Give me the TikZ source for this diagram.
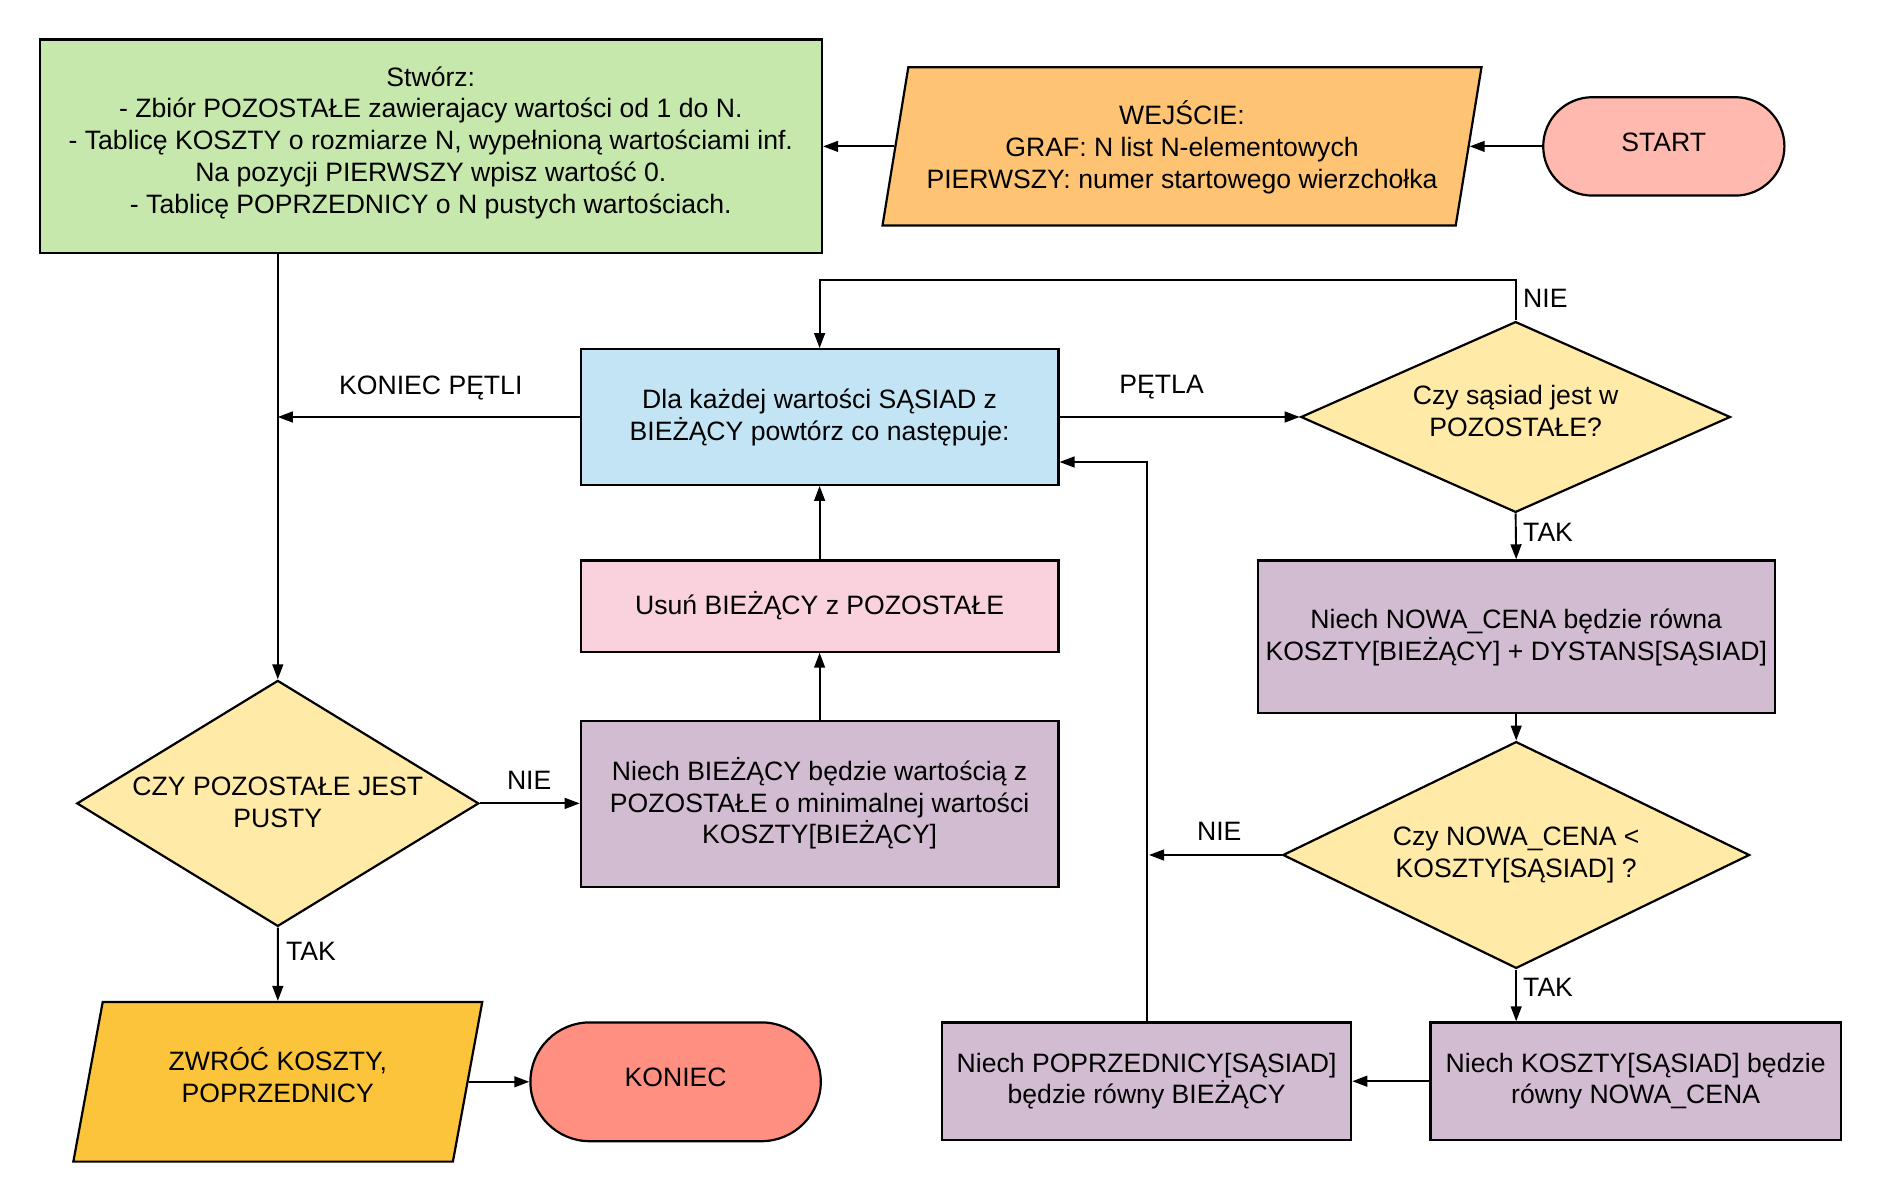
\documentclass[tikz,border=0pt]{standalone}
\usepackage{fontspec}
\setmainfont{Liberation Sans}
\usetikzlibrary{shapes.geometric,shapes.misc,arrows.meta,calc}
\definecolor{cgreen}{RGB}{199,232,172}
\definecolor{corange}{RGB}{254,196,116}
\definecolor{cstart}{RGB}{255,185,174}
\definecolor{cblue}{RGB}{194,228,245}
\definecolor{cpink}{RGB}{249,210,222}
\definecolor{cpurple}{RGB}{210,188,210}
\definecolor{cyellow}{RGB}{255,234,168}
\definecolor{cgold}{RGB}{251,196,58}
\definecolor{cend}{RGB}{255,143,128}
\tikzset{
  base/.style={draw=black, line width=1.1pt, inner sep=0pt, align=center,
    font=\fontsize{13.3}{15.9}\selectfont},
  boxnode/.style={base, rectangle},
  dia/.style={base, diamond},
  para/.style={base, trapezium, trapezium left angle=75.2, trapezium right angle=104.8, trapezium stretches=true},
  term/.style={base, rounded rectangle},
  conn/.style={line width=0.95pt, -{Triangle[length=7.5pt,width=5.4pt]}},
  lbl/.style={font=\fontsize{13.3}{15.9}\selectfont, inner sep=0pt}
}
\begin{document}
\begin{tikzpicture}[x=0.6pt,y=-0.6pt]
\useasboundingbox (0,0) rectangle (1565,1000);
% nodes
\node[boxnode, fill=cgreen, minimum width=391.2pt, minimum height=106.8pt] (green) at (359,122)
  {Stwórz:\\- Zbiór POZOSTAŁE zawierajacy wartości od 1 do N.\\- Tablicę KOSZTY o rozmiarze N, wypełnioną wartościami inf.\\Na pozycji PIERWSZY wpisz wartość 0.\\- Tablicę POPRZEDNICY o N pustych wartościach.\\[-9.4pt]};
\node[para, fill=corange, minimum width=300pt, minimum height=79.2pt] (wej) at (985,122)
  {WEJŚCIE:\\GRAF: N list N-elementowych\\PIERWSZY: numer startowego wierzchołka\\[-14pt]};
\node[term, fill=cstart, minimum width=120.6pt, minimum height=49.2pt] (start) at (1386.5,122) {START\\[-11.9pt]};
\node[boxnode, fill=cblue, minimum width=238.8pt, minimum height=67.8pt] (blue) at (683,347.5)
  {Dla każdej wartości SĄSIAD z\\BIEŻĄCY powtórz co następuje:\\[-13.5pt]};
\node[dia, shape aspect=2.25, fill=cyellow, minimum width=214.8pt, minimum height=95.4pt] (d1) at (1263,347.5)
  {Czy sąsiad jest w\\POZOSTAŁE?\\[-9.9pt]};
\node[boxnode, fill=cpurple, minimum width=258.6pt, minimum height=76.2pt] (p1) at (1263.5,530.5)
  {Niech NOWA\_CENA będzie równa\\KOSZTY[BIEŻĄCY] + DYSTANS[SĄSIAD]\\[-14pt]};
\node[dia, shape aspect=2.06, fill=cyellow, minimum width=233.4pt, minimum height=113.4pt] (d2) at (1263.5,712.5)
  {Czy NOWA\_CENA <\\KOSZTY[SĄSIAD] ?\\[-12.9pt]};
\node[boxnode, fill=cpurple, minimum width=205.2pt, minimum height=58.8pt] (kosz) at (1363,901)
  {Niech KOSZTY[SĄSIAD] będzie\\równy NOWA\_CENA\\[-13pt]};
\node[boxnode, fill=cpurple, minimum width=204.6pt, minimum height=58.8pt] (popr) at (955.5,901)
  {Niech POPRZEDNICY[SĄSIAD]\\będzie równy BIEŻĄCY\\[-13pt]};
\node[boxnode, fill=cpink, minimum width=238.8pt, minimum height=45.6pt] (pink) at (683,505)
  {Usuń BIEŻĄCY z POZOSTAŁE\\[-12.5pt]};
\node[boxnode, fill=cpurple, minimum width=238.8pt, minimum height=82.8pt] (p2) at (683,670)
  {Niech BIEŻĄCY będzie wartością z\\POZOSTAŁE o minimalnej wartości\\KOSZTY[BIEŻĄCY]\\[-12.5pt]};
\node[dia, shape aspect=1.63, fill=cyellow, minimum width=201pt, minimum height=123pt] (d3) at (231.5,669.5)
  {CZY POZOSTAŁE JEST\\PUSTY\\[-14.5pt]};
\node[para, fill=cgold, minimum width=204.6pt, minimum height=79.8pt] (zwr) at (231.5,901.5)
  {ZWRÓĆ KOSZTY,\\POPRZEDNICY\\[-8.7pt]};
\node[term, fill=cend, minimum width=145.2pt, minimum height=59.4pt] (kon) at (563,901.5) {KONIEC\\[-11.5pt]};
% connectors
\draw[conn] (start.west) -- (wej.right side);
\draw[conn] (wej.left side) -- (green.east);
\draw[conn] (d3.north |- green.south) -- (d3.north);
\draw[conn] (blue.west) -- (blue.west -| d3.north);
\node[lbl] (lkp) at (359,323) {KONIEC PĘTLI};
\draw[conn] (blue.east) -- (d1.west);
\node[lbl] (lpe) at (968,323) {PĘTLA};
\draw[conn] (d1.north) -- ++(0,-34) -| (blue.north);
\node[lbl, anchor=west] (ln1) at (1269,249) {NIE};
\draw[conn] (d1.south) -- (p1.north);
\node[lbl, anchor=west] (lt1) at (1269,444) {TAK};
\draw[conn] (p1.south) -- (d2.north);
\draw[conn] (d2.west) -- ($(d2.west -| popr.north)+(2,0)$);
\node[lbl] (ln2) at (1016,693) {NIE};
\draw[conn] (d2.south) -- (kosz.north -| d2.south);
\node[lbl, anchor=west] (lt2) at (1269,823) {TAK};
\draw[conn] (kosz.west) -- (popr.east);
\draw[conn] (popr.north) |- ($(blue.east)+(0,37.5)$);
\draw[conn] (pink.north) -- (blue.south);
\draw[conn] (p2.north) -- (pink.south);
\draw[conn] (d3.east) -- (d3.east -| p2.west);
\node[lbl] (ln3) at (441,650) {NIE};
\draw[conn] (d3.south) -- (zwr.north);
\node[lbl, anchor=west] (lt3) at (238,793) {TAK};
\draw[conn] (zwr.right side) -- (kon.west);
\end{tikzpicture}
\end{document}
